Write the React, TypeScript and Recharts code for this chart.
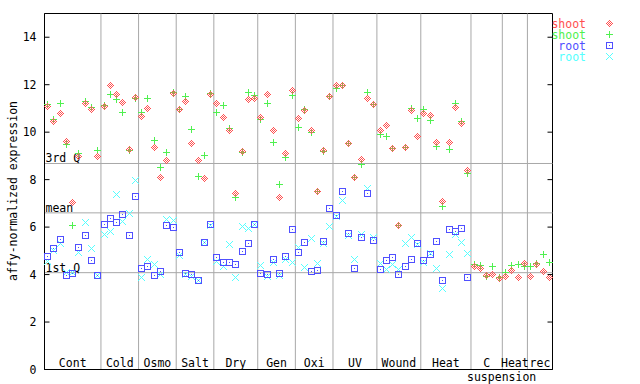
import React from "react";
import { ScatterChart, Scatter, XAxis, YAxis, ReferenceLine, ReferenceArea } from "recharts";

// category blocks along the x axis (number of samples in each)
const categories = ["Cont", "Cold", "Osmo", "Salt", "Dry", "Gen", "Oxi", "UV", "Wound", "Heat", "C suspension", "Heat", "rec"];
const categorySizes = [9, 6, 6, 6, 7, 6, 6, 7, 7, 8, 5, 4, 4];

const shootRed = [
  11.07, 10.47, 10.79, 9.6, 7.04, 8.98, 11.21, 10.96, 8.98,
  11.07, 11.96, 11.58, 11.26, 9.26, 11.47,
  10.67, 11.0, 9.36, 8.09, 8.81, 11.64,
  10.96, 11.28, 9.53, 8.82, 8.05, 11.57,
  11.21, 10.62, 10.05, 7.41, 9.2, 11.38, 11.43,
  10.62, 11.59, 10.07, 7.25, 9.1, 11.76,
  10.58, 10.93, 10.06, 7.5, 9.22, 11.51,
  11.97, 11.96, 9.54, 8.09, 8.85, 11.43, 11.17,
  10.07, 10.29, 9.3, 6.05, 9.36, 10.92, 9.82,
  10.79, 10.71, 9.58, 7.08, 9.56, 11.05, 10.37, 8.4,
  4.33, 4.25, 3.95, 4.0, 3.83,
  3.91, 4.17, 3.87, 4.46,
  3.91, 4.42, 4.12, 3.87,
];
const shootGreen = [
  11.17, 10.55, 11.21, 9.48, 6.06, 9.1, 11.31, 11.05, 9.22,
  11.12, 11.6, 11.38, 10.84, 9.23, 11.43,
  10.84, 11.43, 9.65, 8.51, 9.15, 11.68,
  10.96, 11.52, 10.12, 8.12, 9.02, 11.64,
  10.83, 11.13, 10.16, 7.26, 9.15, 11.68, 11.54,
  10.54, 11.21, 9.57, 7.8, 8.92, 11.55,
  10.2, 10.96, 10.0, 7.48, 9.17, 11.51,
  11.85, 11.95, 9.54, 8.09, 8.64, 11.68, 11.17,
  9.91, 9.82, 9.3, 6.05, 9.36, 10.99, 10.58,
  10.96, 10.5, 9.4, 6.87, 9.27, 11.21, 10.44, 8.26,
  4.42, 4.38, 3.91, 4.33, 3.87,
  4.08, 4.38, 4.42, 4.33,
  4.33, 4.46, 4.84, 4.5,
];
const rootBlue = [
  4.76, 5.09, 5.47, 3.95, 4.04, 5.14, 5.64, 4.59, 3.95,
  6.11, 6.36, 6.19, 6.53, 5.64, 7.29,
  4.25, 4.34, 3.95, 4.12, 6.06, 5.98,
  4.91, 4.04, 4.0, 3.77, 5.35, 6.11,
  4.71, 4.5, 4.5, 4.42, 4.97, 5.31, 6.11,
  4.04, 4.0, 4.63, 4.04, 4.76, 5.9,
  4.95, 5.35, 4.12, 4.17, 5.38, 6.78,
  6.49, 7.5, 5.71, 4.25, 5.56, 7.43, 5.43,
  4.21, 4.59, 4.71, 4.0, 4.33, 4.63, 5.29,
  4.59, 4.84, 5.39, 3.74, 5.9, 5.81, 5.94, 3.87,
];
const rootCyan = [
  4.55, 5.02, 5.3, 4.09, 4.09, 4.93, 6.19, 5.09, 3.95,
  5.69, 5.81, 7.37, 6.23, 6.57, 7.96,
  3.87, 4.63, 4.42, 4.0, 6.32, 6.28,
  4.8, 4.0, 3.91, 3.77, 5.35, 6.05,
  4.57, 4.32, 5.26, 3.87, 6.04, 5.92, 6.11,
  4.38, 3.91, 4.5, 3.95, 4.63, 4.5,
  5.16, 4.29, 5.52, 4.46, 5.31, 6.02,
  6.43, 7.12, 5.66, 4.63, 5.68, 7.64, 5.56,
  4.46, 4.21, 4.42, 4.21, 5.31, 5.56, 5.27,
  4.5, 4.88, 4.25, 3.41, 4.85, 5.68, 5.35, 4.88,
];

const quartiles = [
  { name: "3rd Q", value: 8.68 },
  { name: "mean", value: 6.6 },
  { name: "1st Q", value: 4.08 },
];
const yTicks = [0, 2, 4, 6, 8, 10, 12, 14];

const RED = "#ff5050";
const GREEN = "#50f050";
const BLUE = "#5050ff";
const CYAN = "#55ffff";
const GRID = "#a8a8a8";
const FONT = "'DejaVu Sans Mono', monospace";
const FS = 11.5;
const PLOT_RIGHT = 552.5;

const total = categorySizes.reduce((a, b) => a + b, 0);
const bounds: number[] = [];
const centers: number[] = [];
let acc = 0;
categorySizes.forEach((n) => {
  centers.push(acc + n / 2);
  acc += n;
  bounds.push(acc);
});
const separators = bounds.slice(0, -1);

const toPoints = (vals: number[]) => vals.map((v, i) => ({ x: i + 0.5, y: v }));

// pixel style markers
const px = (x: number, y: number, c: string, k: string) => (
  <rect key={k} x={x} y={y} width={1} height={1} fill={c} shapeRendering="crispEdges" />
);

const Diamond = ({ cx, cy, color }: any) => {
  const x = Math.floor(cx), y = Math.floor(cy);
  const cells: any[] = [];
  for (let dy = -3; dy <= 3; dy++)
    for (let dx = -3; dx <= 3; dx++)
      if (Math.abs(dx) + Math.abs(dy) <= 3 && Math.abs(dx + dy) % 2 === 1) cells.push(px(x + dx, y + dy, color, `${dx}_${dy}`));
  return <g>{cells}</g>;
};

const Plus = ({ cx, cy, color }: any) => {
  const x = Math.floor(cx), y = Math.floor(cy);
  return (
    <g shapeRendering="crispEdges">
      <rect x={x - 3} y={y} width={7} height={1} fill={color} />
      <rect x={x} y={y - 3} width={1} height={7} fill={color} />
    </g>
  );
};

const Square = ({ cx, cy, color }: any) => {
  const x = Math.floor(cx), y = Math.floor(cy);
  return (
    <g shapeRendering="crispEdges">
      <rect x={x - 2.5} y={y - 2.5} width={6} height={6} fill="none" stroke={color} strokeWidth={1} />
      <rect x={x} y={y} width={1} height={1} fill={color} />
    </g>
  );
};

const Cross = ({ cx, cy, color }: any) => {
  const x = Math.floor(cx), y = Math.floor(cy);
  const cells: any[] = [];
  for (let d = -3; d <= 3; d++) {
    cells.push(px(x + d, y + d, color, `a${d}`));
    if (d !== 0) cells.push(px(x + d, y - d, color, `b${d}`));
  }
  return <g>{cells}</g>;
};

const legendItems = [
  { label: "shoot", color: RED, Shape: Diamond },
  { label: "shoot", color: GREEN, Shape: Plus },
  { label: "root", color: BLUE, Shape: Square },
  { label: "root", color: CYAN, Shape: Cross },
];

const CategoryTick = ({ x, y, index }: any) => {
  const [first, ...rest] = categories[index].split(" ");
  return (
    <g>
      <text x={x} y={y - 2.5} textAnchor="middle" fontFamily={FONT} fontSize={FS} fill="#000">
        {first}
      </text>
      {rest.length > 0 && (
        <text x={x + 15} y={y + 11.5} textAnchor="middle" fontFamily={FONT} fontSize={FS} fill="#000">
          {rest.join(" ")}
        </text>
      )}
    </g>
  );
};

const ValueTick = ({ x, y, payload }: any) => (
  <g>
    <line x1={x} x2={x + 5} y1={y} y2={y} stroke="#000" />
    <line x1={PLOT_RIGHT - 5} x2={PLOT_RIGHT} y1={y} y2={y} stroke="#000" />
    <text x={x - 8} y={y + 4} textAnchor="end" fontFamily={FONT} fontSize={FS} fill="#000">
      {payload.value}
    </text>
  </g>
);

const QuartileLabel = ({ viewBox, text }: any) => (
  <text x={viewBox.x + 1} y={viewBox.y - 1} fontFamily={FONT} fontSize={FS} fill="#000">
    {text}
  </text>
);

const App: React.FC = () => {
  return (
    <div style={{ position: "absolute", left: 0, top: 0, width: 640, height: 384, background: "#fff" }}>
      <ScatterChart width={640} height={384} margin={{ top: 13.5, right: 640 - PLOT_RIGHT, bottom: 0, left: 0 }}>
        <XAxis
          type="number"
          dataKey="x"
          domain={[0, total]}
          ticks={centers}
          interval={0}
          height={14.5}
          tickSize={0}
          tickMargin={0}
          tickLine={false}
          axisLine={{ stroke: "#000" }}
          tick={<CategoryTick />}
        />
        <YAxis
          type="number"
          dataKey="y"
          domain={[0, 15]}
          ticks={yTicks}
          width={44.5}
          tickSize={0}
          tickMargin={0}
          tickLine={false}
          axisLine={{ stroke: "#000" }}
          tick={<ValueTick />}
        />
        {separators.map((s) => (
          <ReferenceLine key={`sep${s}`} x={s} stroke={GRID} />
        ))}
        {quartiles.map((q) => (
          <ReferenceLine key={q.name} y={q.value} stroke={GRID} label={<QuartileLabel text={q.name} />} />
        ))}
        <ReferenceArea x1={0} x2={total} y1={0} y2={15} fill="none" stroke="#000" />
        <Scatter data={toPoints(rootCyan)} isAnimationActive={false} shape={(p: any) => <Cross {...p} color={CYAN} />} />
        <Scatter data={toPoints(rootBlue)} isAnimationActive={false} shape={(p: any) => <Square {...p} color={BLUE} />} />
        <Scatter data={toPoints(shootGreen)} isAnimationActive={false} shape={(p: any) => <Plus {...p} color={GREEN} />} />
        <Scatter data={toPoints(shootRed)} isAnimationActive={false} shape={(p: any) => <Diamond {...p} color={RED} />} />
      </ScatterChart>
      <svg width={640} height={384} style={{ position: "absolute", left: 0, top: 0, pointerEvents: "none" }}>
        <text
          transform="translate(13,191) rotate(-90)"
          textAnchor="middle"
          dominantBaseline="central"
          fontFamily={FONT}
          fontSize={FS}
          fill="#000"
        >
          affy-normalized expression
        </text>
        {legendItems.map((item, i) => (
          <g key={i}>
            <text x={586} y={27.5 + 11 * i} textAnchor="end" fontFamily={FONT} fontSize={FS} fill={item.color}>
              {item.label}
            </text>
            <item.Shape cx={609.5} cy={23.5 + 11 * i} color={item.color} />
          </g>
        ))}
      </svg>
    </div>
  );
};

export default App;
